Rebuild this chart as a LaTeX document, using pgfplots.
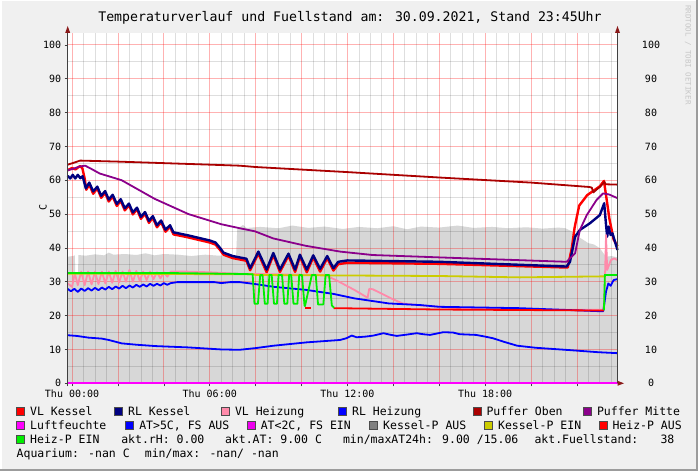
\documentclass[border=0pt]{standalone}
\usepackage{fontspec}
\setmainfont{DejaVu Sans Mono}
\usepackage{pgfplots}
\pgfplotsset{compat=1.18}
\definecolor{bgc}{HTML}{F0F0F0}
\definecolor{frd}{HTML}{9C9C9C}
\definecolor{garea}{HTML}{D7D7D7}
\definecolor{axc}{HTML}{404040}
\definecolor{arc}{HTML}{8B1A1A}
\definecolor{vlk}{HTML}{FF0000}
\definecolor{rlk}{HTML}{000080}
\definecolor{vlh}{HTML}{FF8AAA}
\definecolor{rlh}{HTML}{0000FF}
\definecolor{po}{HTML}{AA0000}
\definecolor{pm}{HTML}{8B008B}
\definecolor{lf}{HTML}{FF00FF}
\definecolor{atf}{HTML}{0000FF}
\definecolor{atz}{HTML}{EE00EE}
\definecolor{kpa}{HTML}{808080}
\definecolor{kpe}{HTML}{CCCC00}
\definecolor{hpa}{HTML}{FF0000}
\definecolor{hpe}{HTML}{00EE00}
\newcommand{\legbox}[4]{%
  \filldraw[fill=#3, draw=black!70, line width=0.5pt] (#1,#2-4) rectangle (#1+8,#2+4);
  \node[anchor=base west, inner sep=0pt, font=\fontsize{11.5}{13}\selectfont] at (#1+13.5,#2-4) {#4};}
\newcommand{\legtxt}[3]{%
  \node[anchor=base west, inner sep=0pt, font=\fontsize{11.5}{13}\selectfont] at (#1,#2-4) {#3};}
\begin{document}
\begin{tikzpicture}[x=1pt,y=1pt]
\fill[bgc] (0,0) rectangle (698,471);
\fill[white] (0,469.5) rectangle (698,471);
\fill[white] (0,0) rectangle (1.5,471);
\fill[frd] (695.5,0) rectangle (698,471);
\fill[frd] (0,0) rectangle (698,2.5);
\fill[white] (67.7,87.7) rectangle (617.5,438);
% ---- axis A: grey area + right labels
\begin{axis}[
  at={(67.7pt,87.7pt)}, anchor=south west,
  scale only axis, width=549.8pt, height=350.3pt,
  xmin=-0.19, xmax=23.77, ymin=0, ymax=103.5,
  axis line style={draw=none},
  xtick=\empty,
  ytick={0,10,...,100}, ytick pos=right, yticklabel pos=right,
  major tick length=0pt,
  yticklabel style={anchor=center, xshift=33.5pt},
  tick label style={font=\fontsize{10}{12}\selectfont, text=black},
  /pgf/number format/assume math mode=true,
]
\addplot[draw=none, fill=garea] coordinates {
(-0.19,37.4) (0.05,37.6) (0.12,37.8) (0.14,32.5) (0.26,32.5) (0.28,37.9) (0.6,37.7) (1.0,38.1) (1.4,37.8) (1.6,38.6) (1.8,38.0) (2.3,38.2) (2.8,37.9) (3.2,38.4) (3.6,37.8) (4.0,38.2) (4.6,38.0) (5.2,37.6) (5.8,38.0) (6.4,37.7) (7.0,37.9) (7.15,37.8) (7.2,45.6) (7.45,46.8) (7.6,45.9) (8.2,46.2) (9,45.8) (9.6,46.6) (10.3,45.9) (11,46.3) (11.8,45.6) (12.5,46.2) (13.3,45.8) (14,46.4) (14.6,45.5) (15.2,46.3) (16,46.0) (16.8,46.6) (17.5,45.9) (18.3,46.2) (19,45.8) (19.8,46.1) (20.5,45.7) (21.2,46.0) (21.5,45.8) (21.8,44.8) (22.06,43.3) (22.25,42.5) (22.5,41.4) (22.75,41.0) (23.0,39.9) (23.2,38.0) (23.3,37.4) (23.5,37.6) (23.77,37.2)
} \closedcycle;
\end{axis}
% ---- axis B: grid, ticks, lines
\begin{axis}[
  at={(67.7pt,87.7pt)}, anchor=south west,
  scale only axis, width=549.8pt, height=350.3pt,
  xmin=-0.19, xmax=23.77, ymin=0, ymax=103.5,
  axis line style={draw=none},
  xtick={0,2,...,22},
  xticklabels={Thu 00:00,,,Thu 06:00,,,Thu 12:00,,,Thu 18:00,,},
  minor xtick={0.5,1,1.5,2.5,3,3.5,4.5,5,5.5,6.5,7,7.5,8.5,9,9.5,10.5,11,11.5,12.5,13,13.5,14.5,15,15.5,16.5,17,17.5,18.5,19,19.5,20.5,21,21.5,22.5,23,23.5},
  ytick={0,10,...,100},
  minor ytick={5,15,...,95},
  grid=both,
  major grid style={draw=red, opacity=0.3, line width=0.7pt},
  minor grid style={draw=black, opacity=0.13, line width=0.7pt},
  xtick pos=bottom, ytick pos=left,
  tick align=outside,
  major tick length=3pt, minor tick length=0pt,
  tick style={draw=black!75, line width=0.6pt},
  tick label style={font=\fontsize{10}{12}\selectfont, text=black},
  /pgf/number format/assume math mode=true,
  clip=false,
]
% VL Kessel
\addplot[vlk, line width=2.4pt, line join=round] coordinates {
(-0.19,63.0) (0.0,63.6) (0.15,63.2) (0.35,64.2) (0.45,63.5) (0.55,60.5) (0.62,57.2) (0.75,58.7) (0.92,56.0) (1.10,57.6) (1.27,54.8) (1.44,56.3) (1.60,53.7) (1.77,55.2) (1.95,52.4) (2.12,53.9) (2.30,51.1) (2.48,52.6) (2.65,49.9) (2.83,51.4) (3.00,48.6) (3.18,50.1) (3.35,47.4) (3.52,48.9) (3.70,46.1) (3.88,47.6) (4.07,44.8) (4.27,46.2) (4.42,44.0) (5.0,43.2) (6.0,41.6) (6.25,41.0) (6.45,39.4) (6.6,38.0) (7.0,37.0) (7.6,36.2) (7.76,33.4) (8.12,38.3) (8.48,32.8) (8.77,37.9) (9.06,32.9) (9.43,37.7) (9.72,32.9) (9.93,37.4) (10.23,32.8) (10.51,37.2) (10.81,33.0) (11.12,37.0) (11.39,33.3) (11.6,35.2) (12.0,35.6) (16.0,35.3) (21.6,34.2) (21.78,40.0) (21.9,46.0) (22.1,52.5) (22.45,55.6) (23.0,58.2) (23.18,59.8) (23.25,56.5) (23.42,48.5) (23.6,42.5) (23.77,40.5)
};
% RL Kessel
\addplot[rlk, line width=2.4pt, line join=round] coordinates {
(-0.19,61.3) (-0.08,60.5) (0.03,61.6) (0.14,60.5) (0.25,61.6) (0.36,60.6) (0.46,61.2) (0.6,57.6) (0.75,59.3) (0.92,56.7) (1.10,58.1) (1.27,55.4) (1.44,56.8) (1.60,54.3) (1.77,55.7) (1.95,53.0) (2.12,54.4) (2.30,51.7) (2.48,53.1) (2.65,50.5) (2.83,51.9) (3.00,49.2) (3.18,50.6) (3.35,48.0) (3.52,49.4) (3.70,46.7) (3.88,48.1) (4.07,45.4) (4.27,46.7) (4.42,44.6) (5.0,43.8) (6.0,42.2) (6.25,41.6) (6.45,40.0) (6.6,38.6) (7.0,37.6) (7.6,36.8) (7.76,34.0) (8.12,38.9) (8.48,33.6) (8.77,38.5) (9.06,33.6) (9.43,38.3) (9.72,33.6) (9.93,38.0) (10.23,33.6) (10.51,37.8) (10.81,33.8) (11.12,37.6) (11.39,34.0) (11.6,35.9) (12.0,36.3) (16.0,35.9) (21.55,34.5) (21.7,35.9) (21.92,43.3) (22.13,45.3) (22.57,47.3) (23.0,49.7) (23.19,53.2) (23.27,46.8) (23.32,43.3) (23.38,46.3) (23.47,43.8) (23.55,44.3) (23.77,39.4)
};
% VL Heizung
\addplot[vlh, line width=1.8pt, line join=round] coordinates {
(-0.19,29.5) (0.0,28.5) (0.12,32.5) (0.25,29.0) (0.4,33.0) (0.55,29.0) (0.7,33.0) (0.85,29.2) (1.0,33.0) (1.15,29.3) (1.3,33.0) (1.45,29.5) (1.6,33.0) (1.75,29.7) (1.9,33.2) (2.05,29.8) (2.2,33.0) (2.35,30.0) (2.5,33.5) (2.65,30.0) (2.8,33.2) (2.95,30.3) (3.1,33.0) (3.25,30.5) (3.4,33.0) (3.55,30.8) (3.7,32.8) (3.85,31.0) (4.0,32.8) (4.15,31.5) (4.3,33.0) (4.5,33.0) (5,33.0) (6,32.8) (7.1,32.4) (7.9,32.3) (11.0,32.0) (11.5,30.5) (12.3,27.6) (12.8,25.6) (12.88,25.3) (12.95,27.9) (13.1,27.8) (13.9,25.1) (14.4,23.6) (15.2,23.0) (16,22.6) (17,22.0) (19,21.8) (23.15,21.7) (23.2,24.6) (23.27,43.8) (23.32,33.5) (23.48,36.4) (23.62,36.9) (23.77,36.4)
};
% RL Heizung
\addplot[rlh, line width=1.8pt, line join=round] coordinates {
(-0.19,27.9) (-0.05,27.2) (0.1,27.9) (0.25,27.0) (0.4,28.0) (0.55,27.3) (0.7,28.1) (0.85,27.4) (1.0,28.2) (1.15,27.5) (1.3,28.3) (1.45,27.7) (1.6,28.5) (1.75,27.8) (1.9,28.6) (2.05,28.0) (2.2,28.8) (2.35,28.1) (2.5,28.9) (2.65,28.3) (2.8,29.1) (2.95,28.5) (3.1,29.2) (3.25,28.6) (3.4,29.4) (3.55,28.8) (3.7,29.4) (3.85,28.9) (4.0,29.6) (4.15,29.1) (4.3,29.6) (4.6,29.9) (6.2,29.9) (6.5,29.6) (6.9,29.9) (7.3,29.9) (7.9,29.4) (8.8,28.5) (10.2,27.6) (11.4,26.4) (12.3,25.1) (13.8,23.6) (15.2,23.1) (16,22.6) (19.5,22.2) (23.0,21.3) (23.15,21.3) (23.27,27.1) (23.37,29.5) (23.47,28.8) (23.6,30.5) (23.77,30.8)
};
% Puffer Oben
\addplot[po, line width=1.8pt, line join=round] coordinates {
(-0.19,64.6) (0.0,65.0) (0.35,65.8) (2.0,65.5) (6.0,64.6) (7.3,64.3) (8,63.9) (12,62.4) (16,60.8) (20,59.3) (22.55,58.0) (22.65,57.8) (22.72,56.4) (22.85,57.2) (23.0,58.0) (23.2,59.5) (23.25,58.8) (23.77,58.7)
};
% Puffer Mitte
\addplot[pm, line width=1.8pt, line join=round] coordinates {
(-0.19,62.9) (0.1,63.5) (0.3,64.0) (0.57,64.3) (0.8,63.5) (1.2,62.0) (2.16,60.0) (3.6,54.5) (5.07,50.0) (6.5,47.0) (7.32,45.8) (7.97,44.9) (8.77,42.8) (10.2,40.6) (11.7,38.9) (13.1,37.9) (15.2,37.4) (16,37.2) (21.55,35.9) (21.92,38.4) (22.13,45.3) (22.43,49.7) (22.86,54.2) (23.14,56.1) (23.4,55.8) (23.77,54.7)
};
% Luftfeuchte
\addplot[lf, line width=2pt] coordinates {(-0.19,0) (23.77,0)};
% AT>5C
\addplot[atf, line width=1.8pt, line join=round] coordinates {
(-0.19,14.2) (0.2,14.0) (0.71,13.5) (1.3,13.2) (1.6,12.8) (2.16,11.8) (2.8,11.4) (3.62,11.0) (5.07,10.6) (6.5,10.0) (7.3,9.9) (8.0,10.4) (8.77,11.1) (10.23,12.1) (11.68,12.8) (11.95,13.3) (12.19,14.1) (12.4,13.6) (12.8,13.8) (13.13,14.1) (13.57,14.8) (13.9,14.3) (14.15,14.0) (14.6,14.4) (15.02,14.8) (15.3,14.5) (15.6,14.3) (16.18,15.1) (16.6,15.0) (16.9,14.5) (17.6,14.3) (18.0,13.8) (18.35,13.3) (18.8,12.3) (19.4,11.1) (20.2,10.5) (21.7,9.8) (22.9,9.2) (23.77,8.9)
};
% Kessel-P EIN
\addplot[kpe, line width=1.8pt] coordinates {
(-0.19,32.4) (7.9,32.2) (8,32.0) (16,31.7) (19.5,31.3) (23.18,31.6)
};
% Heiz-P AUS
\addplot[hpa, line width=1.8pt] coordinates {(10.15,22.3) (10.42,22.3)};
\addplot[hpa, line width=1.8pt] coordinates {(11.4,22.2) (16,21.8) (23.18,21.5)};
% Heiz-P EIN
\addplot[hpe, line width=1.8pt, line join=round] coordinates {
(-0.19,32.6) (4,32.6) (7.5,32.3) (7.87,32.2) (7.95,23.5) (8.1,23.5) (8.2,32) (8.3,32) (8.4,23.5) (8.52,23.5) (8.6,32) (8.7,32) (8.8,23.5) (8.93,23.5) (9.0,32) (9.15,32) (9.25,23.5) (9.38,23.5) (9.46,32) (9.55,32) (9.65,23.5) (9.82,23.5) (9.9,32) (10.02,32) (10.13,23.0) (10.15,22.8) (10.45,32) (10.62,32) (10.72,23.3) (10.95,23.3) (11.05,32) (11.2,32) (11.32,23.0) (11.42,22.3)
};
\addplot[hpe, line width=1.8pt] coordinates {(23.18,21.6) (23.22,32.0) (23.77,32.0)};
\end{axis}
% axis lines and arrows
\draw[axc, line width=0.8pt] (67.7,84.7) -- (67.7,439);
\draw[axc, line width=0.8pt] (617.5,87.7) -- (617.5,439);
\fill[arc] (67.7,445) -- (65.2,438) -- (70.2,438) -- cycle;
\fill[arc] (617.5,445) -- (615,438) -- (620,438) -- cycle;
\fill[arc] (624,87.7) -- (617.5,85.2) -- (617.5,90.2) -- cycle;
% y label
\node[rotate=90, font=\fontsize{10}{12}\selectfont] at (43,264) {C};
% title
\node[anchor=base, inner sep=0pt, font=\fontsize{13.2}{15}\selectfont] at (350,449) {Temperaturverlauf und Fuellstand am: 30.09.2021, Stand 23:45Uhr};
% watermark
\node[rotate=-90, anchor=west, inner sep=0pt, text=black!22, font=\fontsize{7.5}{8}\selectfont] at (688,466) {RRDTOOL / TOBI OETIKER};
% legend
\legbox{16.5}{60}{vlk}{VL Kessel}
\legbox{114.4}{60}{rlk}{RL Kessel}
\legbox{221.3}{60}{vlh}{VL Heizung}
\legbox{338.4}{60}{rlh}{RL Heizung}
\legbox{472.8}{60}{po}{Puffer Oben}
\legbox{583.3}{60}{pm}{Puffer Mitte}
\legbox{16.5}{46}{lf}{Luftfeuchte}
\legbox{125.6}{46}{atf}{AT>5C, FS AUS}
\legbox{247.1}{46}{atz}{AT<2C, FS EIN}
\legbox{369.5}{46}{kpa}{Kessel-P AUS}
\legbox{484.4}{46}{kpe}{Kessel-P EIN}
\legbox{598.8}{46}{hpa}{Heiz-P AUS}
\legbox{16.5}{32}{hpe}{Heiz-P EIN}
\legtxt{121.1}{32}{akt.rH: 0.00}
\legtxt{224.8}{32}{akt.AT: 9.00 C}
\legtxt{342.8}{32}{min/maxAT24h: 9.00 /15.06}
\legtxt{534.3}{32}{akt.Fuellstand:}
\legtxt{660.3}{32}{38}
\legtxt{16.5}{18}{Aquarium: -nan C}
\legtxt{144.7}{18}{min/max: -nan/ -nan}
\end{tikzpicture}
\end{document}
